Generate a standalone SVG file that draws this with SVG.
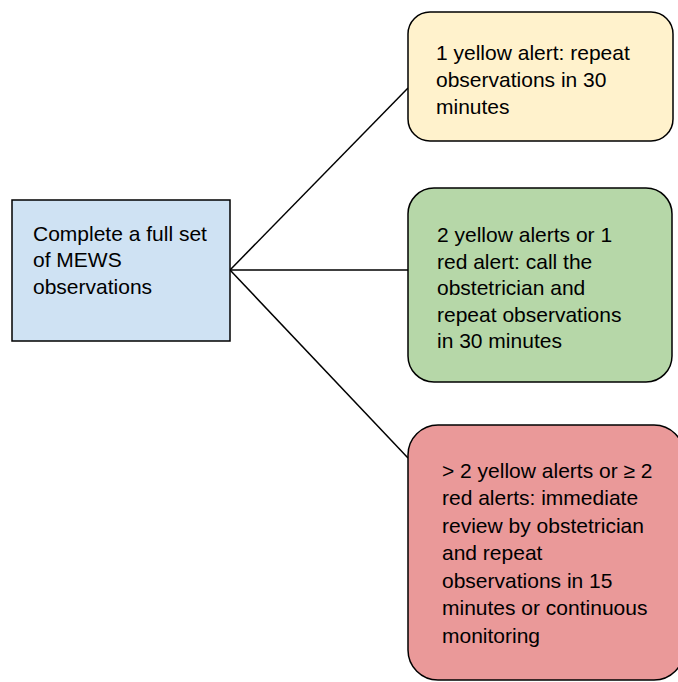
<svg xmlns="http://www.w3.org/2000/svg" width="678" height="682" viewBox="0 0 678 682">
<style>
.box{stroke:#000;stroke-width:1.5}
.t{font-family:"Liberation Sans",Arial,sans-serif;font-size:21px;fill:#000}
.c{stroke:#000;stroke-width:1.5;fill:none}
</style>
<rect width="678" height="682" fill="#fff"/>
<g id="connectors">
<line class="c" x1="230" y1="270" x2="408" y2="88"/>
<line class="c" x1="230" y1="270" x2="408" y2="270"/>
<line class="c" x1="230" y1="270" x2="408" y2="458"/>
</g>
<g id="start">
<rect class="box" x="12" y="200" width="218" height="141" fill="#cfe2f3"/>
<text class="t"><tspan x="33" y="241">Complete a full set</tspan><tspan x="33" y="267">of MEWS</tspan><tspan x="33" y="294">observations</tspan></text>
</g>
<g id="yellow">
<rect class="box" x="408" y="12" width="265" height="129" rx="22" fill="#fff2cc"/>
<text class="t"><tspan x="436" y="60">1 yellow alert: repeat</tspan><tspan x="436" y="87">observations in 30</tspan><tspan x="436" y="114">minutes</tspan></text>
</g>
<g id="green">
<rect class="box" x="408" y="188" width="264" height="194" rx="26" fill="#b6d7a8"/>
<text class="t"><tspan x="437" y="242">2 yellow alerts or 1</tspan><tspan x="437" y="269">red alert: call the</tspan><tspan x="437" y="295">obstetrician and</tspan><tspan x="437" y="322">repeat observations</tspan><tspan x="437" y="348">in 30 minutes</tspan></text>
</g>
<g id="red">
<rect class="box" x="408" y="425" width="276" height="255" rx="30" fill="#ea9999"/>
<text class="t"><tspan x="442" y="478">&gt; 2 yellow alerts or ≥ 2</tspan><tspan x="442" y="505">red alerts: immediate</tspan><tspan x="442" y="533">review by obstetrician</tspan><tspan x="442" y="560">and repeat</tspan><tspan x="442" y="588">observations in 15</tspan><tspan x="442" y="615">minutes or continuous</tspan><tspan x="442" y="643">monitoring</tspan></text>
</g>
</svg>
